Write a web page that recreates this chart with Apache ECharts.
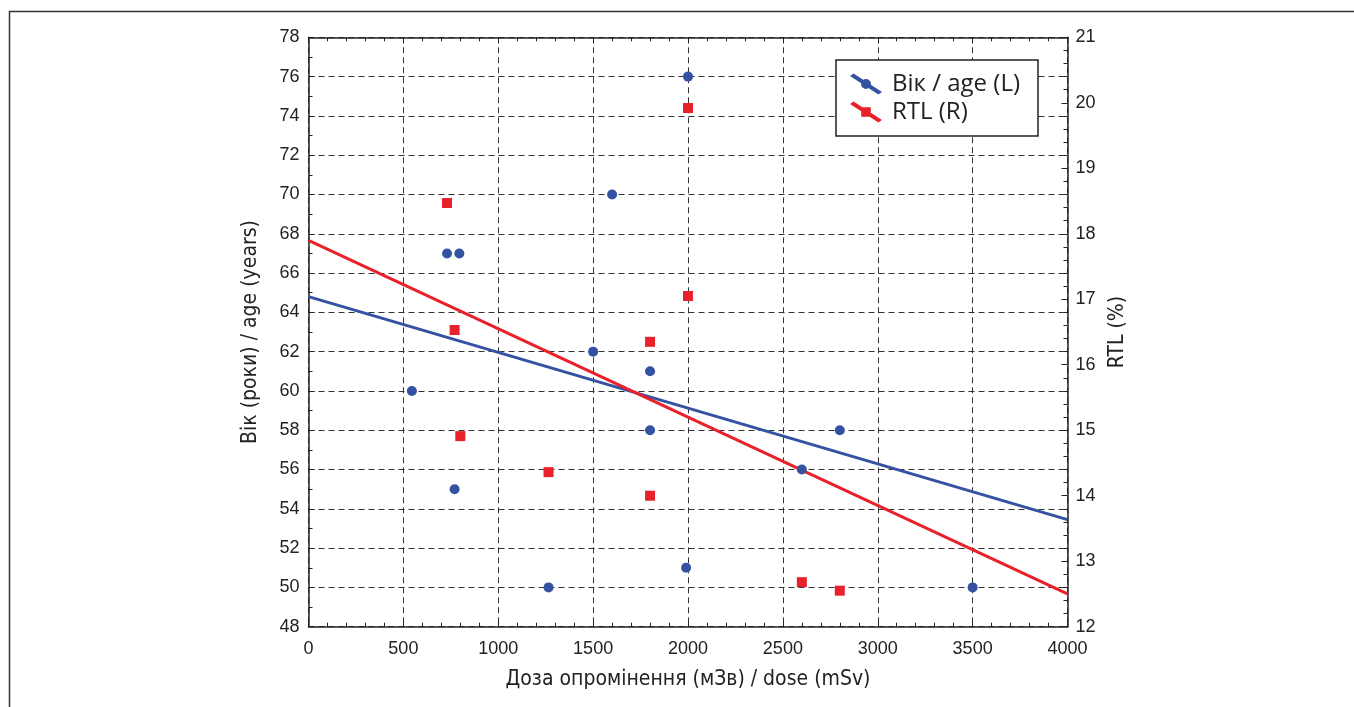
<!DOCTYPE html>
<html>
<head>
<meta charset="utf-8">
<script src="https://cdn.jsdelivr.net/npm/echarts@6/dist/echarts.min.js"></script>
<style>
html,body{margin:0;padding:0;background:#fff;}
#main{width:1354px;height:707px;}
</style>
</head>
<body>
<div id="main"></div>
<script>
// Data
const doseAge = [2000, 1600, 730, 795, 545, 770, 1500, 1800, 1800, 1265, 1990, 2600, 2800, 3500];
const ageValues = [76, 70, 67, 67, 60, 55, 62, 61, 58, 50, 51, 56, 58, 50];
const doseRtl = [2000, 730, 770, 2000, 1800, 800, 1265, 1800, 2600, 2800];
const rtlValues = [19.92, 18.47, 16.53, 17.05, 16.35, 14.91, 14.36, 14.0, 12.68, 12.55];
const fitDose = [0, 4000];
const ageFit = [64.8, 53.45];
const rtlFit = [17.9, 12.5];
const seriesNames = ['Вік / age (L)', 'RTL (R)'];
const xName = 'Доза опромінення (мЗв) / dose (mSv)';
const yLeftName = 'Вік (роки) / age (years)';
const yRightName = 'RTL (%)';

const BLUE = '#3452a2';
const RED = '#e8212b';
const nameFont = "'Liberation Sans Narrow', 'DejaVu Sans Condensed', sans-serif";
const tickFont = "'Liberation Sans', Arial, sans-serif";

const pairs = (xs, ys) => xs.map((x, i) => [x, ys[i]]);
const plain = v => String(v);

const gridDash = { show: true, lineStyle: { color: '#333', width: 1, type: [6, 4] } };
const axisLine = { show: true, onZero: false, lineStyle: { color: '#222', width: 1.5 } };
const tick = { show: true, inside: true, length: 6, lineStyle: { color: '#222' } };

const lineIcon = 'M0,2.4 L3.6,0 L32,18.6 L28.4,21 Z ';
const circleIcon = 'M11,10.5 A5,5 0 1,1 21,10.5 A5,5 0 1,1 11,10.5 Z';
const squareIcon = 'M11.2,5.7 L20.8,5.7 L20.8,15.3 L11.2,15.3 Z';

const chart = echarts.init(document.getElementById('main'));
chart.setOption({
  animation: false,
  backgroundColor: '#fff',
  graphic: [{
    type: 'rect', left: 7, top: 9, z: -1,
    shape: { width: 1400, height: 800 },
    style: { fill: 'none', stroke: '#333', lineWidth: 1.5 }
  }],
  grid: { left: 308.5, right: 286.5, top: 37.3, bottom: 80.3, containLabel: false },
  legend: {
    orient: 'vertical',
    left: 836, top: 60,
    padding: [12, 18, 12, 14],
    itemGap: 4,
    itemWidth: 32, itemHeight: 21,
    backgroundColor: '#fff',
    borderColor: '#222', borderWidth: 1.5,
    data: [
      { name: seriesNames[0], icon: 'path://' + lineIcon + circleIcon },
      { name: seriesNames[1], icon: 'path://' + lineIcon + squareIcon }
    ],
    textStyle: { fontFamily: "'Open Sans', sans-serif", fontSize: 24, lineHeight: 24, color: '#222', padding: [0, 0, 0, 5] }
  },
  xAxis: [{
    type: 'value', position: 'bottom', min: 0, max: 4000, interval: 500,
    axisLine: axisLine,
    axisTick: tick,
    minorTick: { show: true, splitNumber: 5, length: 4, lineStyle: { color: '#222' } },
    splitLine: gridDash,
    axisLabel: { fontFamily: tickFont, fontSize: 18, color: '#222', margin: 13, formatter: plain },
    name: xName, nameLocation: 'middle', nameGap: 42,
    nameTextStyle: { fontFamily: nameFont, fontSize: 21, color: '#222' }
  }, {
    type: 'value', position: 'top', min: 0, max: 4000, interval: 500,
    axisLine: axisLine,
    axisTick: tick,
    minorTick: { show: true, splitNumber: 5, length: 4, lineStyle: { color: '#222' } },
    splitLine: { show: false },
    axisLabel: { show: false }
  }],
  yAxis: [{
    type: 'value', position: 'left', min: 48, max: 78, interval: 2,
    axisLine: axisLine,
    axisTick: tick,
    minorTick: { show: true, splitNumber: 2, length: 4, lineStyle: { color: '#222' } },
    splitLine: gridDash,
    axisLabel: { fontFamily: tickFont, fontSize: 18, color: '#222', margin: 9, formatter: plain },
    name: yLeftName, nameLocation: 'middle', nameGap: 47, nameRotate: 90,
    nameTextStyle: { fontFamily: nameFont, fontSize: 21, color: '#222' }
  }, {
    type: 'value', position: 'right', min: 12, max: 21, interval: 1,
    axisLine: axisLine,
    axisTick: tick,
    minorTick: { show: true, splitNumber: 5, length: 4, lineStyle: { color: '#222' } },
    splitLine: { show: false },
    axisLabel: { fontFamily: tickFont, fontSize: 18, color: '#222', margin: 8, formatter: plain },
    name: yRightName, nameLocation: 'middle', nameGap: 40, nameRotate: 90,
    nameTextStyle: { fontFamily: nameFont, fontSize: 21, color: '#222' }
  }],
  series: [
    {
      name: seriesNames[0] + ' fit', type: 'line', xAxisIndex: 0, yAxisIndex: 0,
      data: pairs(fitDose, ageFit), showSymbol: false, symbol: 'none',
      lineStyle: { color: BLUE, width: 3 }, z: 2, silent: true
    },
    {
      name: seriesNames[1] + ' fit', type: 'line', xAxisIndex: 0, yAxisIndex: 1,
      data: pairs(fitDose, rtlFit), showSymbol: false, symbol: 'none',
      lineStyle: { color: RED, width: 3 }, z: 2, silent: true
    },
    {
      name: seriesNames[0], type: 'scatter', xAxisIndex: 0, yAxisIndex: 0,
      data: pairs(doseAge, ageValues), symbol: 'circle', symbolSize: 10,
      itemStyle: { color: BLUE, opacity: 1 }, z: 3
    },
    {
      name: seriesNames[1], type: 'scatter', xAxisIndex: 0, yAxisIndex: 1,
      data: pairs(doseRtl, rtlValues), symbol: 'rect', symbolSize: 10,
      itemStyle: { color: RED, opacity: 1 }, z: 3
    }
  ]
});
</script>
</body>
</html>
